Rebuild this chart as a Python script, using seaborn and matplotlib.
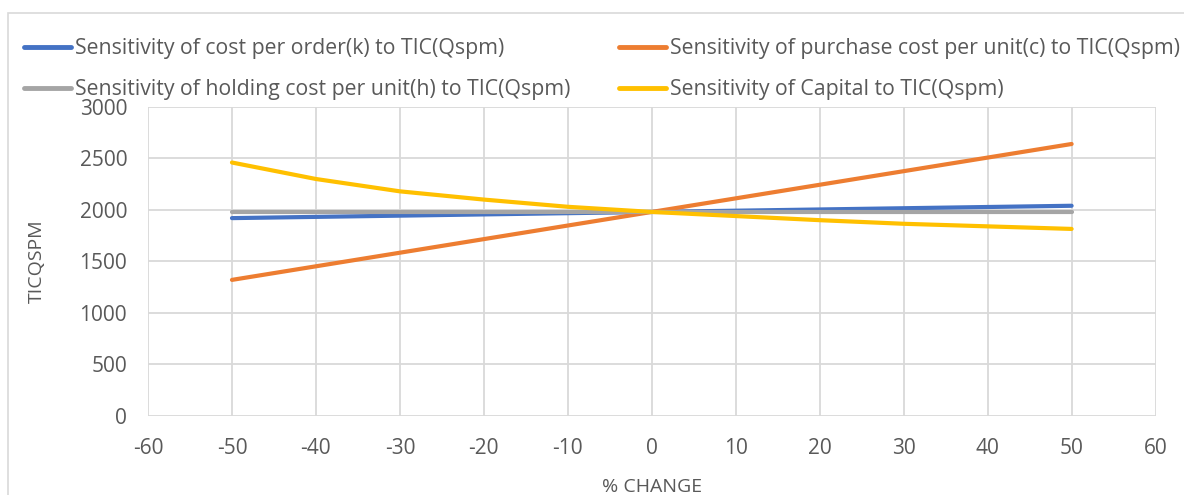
import pandas as pd
import seaborn as sns
from matplotlib import pyplot as plt
from matplotlib.lines import Line2D
from matplotlib.patches import Rectangle

# %% data
pct_change = [-50, -40, -30, -20, -10, 0, 10, 20, 30, 40, 50]
tic_k = [1920, 1932, 1944, 1956, 1968, 1980, 1992, 2004, 2016, 2028, 2040]
tic_c = [1320, 1452, 1584, 1716, 1848, 1980, 2112, 2244, 2376, 2508, 2640]
tic_h = [1978, 1978, 1978, 1978, 1978, 1978, 1978, 1978, 1978, 1978, 1978]
tic_capital = [2460, 2300, 2180, 2100, 2030, 1980, 1940, 1900, 1865, 1840, 1815]

series_names = [
    'Sensitivity of cost per order(k) to TIC(Qspm)',
    'Sensitivity of purchase cost per unit(c) to TIC(Qspm)',
    'Sensitivity of holding cost per unit(h) to TIC(Qspm)',
    'Sensitivity of Capital to TIC(Qspm)',
]
colors = ['#4472c4', '#ed7d31', '#a5a5a5', '#ffc000']

# %% long format for seaborn
df = pd.concat([
    pd.DataFrame({'pct': pct_change, 'tic': vals, 'series': name})
    for name, vals in zip(series_names, [tic_k, tic_c, tic_h, tic_capital])
])

sns.set_style('white')
plt.rcParams['font.family'] = ['Open Sans', 'DejaVu Sans']
plt.rcParams['axes.unicode_minus'] = False
txt = '#595959'
grid = '#d9d9d9'
fs = 15

fig = plt.figure(figsize=(11.84, 4.95), dpi=100)
ax = fig.add_axes([0.125, 0.160, 0.851, 0.624])

sns.lineplot(data=df, x='pct', y='tic', hue='series', hue_order=series_names,
             palette=colors, linewidth=3, legend=False, ax=ax,
             solid_capstyle='round')

ax.set_xlim(-60, 60)
ax.set_ylim(0, 3000)
ax.set_xticks(range(-60, 61, 10))
ax.set_yticks(range(0, 3001, 500))
ax.grid(True, color=grid, linewidth=1.3)
ax.set_axisbelow(True)
for s in ax.spines.values():
    s.set_visible(False)
ax.tick_params(axis='both', colors=txt, labelsize=fs, length=0)
ax.tick_params(axis='y', pad=15)
ax.tick_params(axis='x', pad=16)
ax.set_xlabel('% CHANGE', color=txt, fontsize=fs - 1, labelpad=14)
ax.set_ylabel('TICQSPM', color=txt, fontsize=fs - 1, labelpad=24)

# legend in two separate columns like the original
handles = [Line2D([], [], color=c, linewidth=3.5, solid_capstyle='round') for c in colors]
common = dict(loc='upper left', frameon=False, fontsize=15.3, handlelength=2.2,
              handletextpad=0.2, labelspacing=0.95, labelcolor=txt, borderaxespad=0)
fig.legend([handles[0], handles[2]], [series_names[0], series_names[2]],
           bbox_to_anchor=(0.013, 0.94), **common)
fig.legend([handles[1], handles[3]], [series_names[1], series_names[3]],
           bbox_to_anchor=(0.516, 0.94), **common)

# chart area border
fig.patches.append(Rectangle((0.007, -0.05), 1.1, 1.024, transform=fig.transFigure,
                             fill=False, edgecolor=grid, linewidth=1.2))

fig.savefig('out.png', dpi=100)
